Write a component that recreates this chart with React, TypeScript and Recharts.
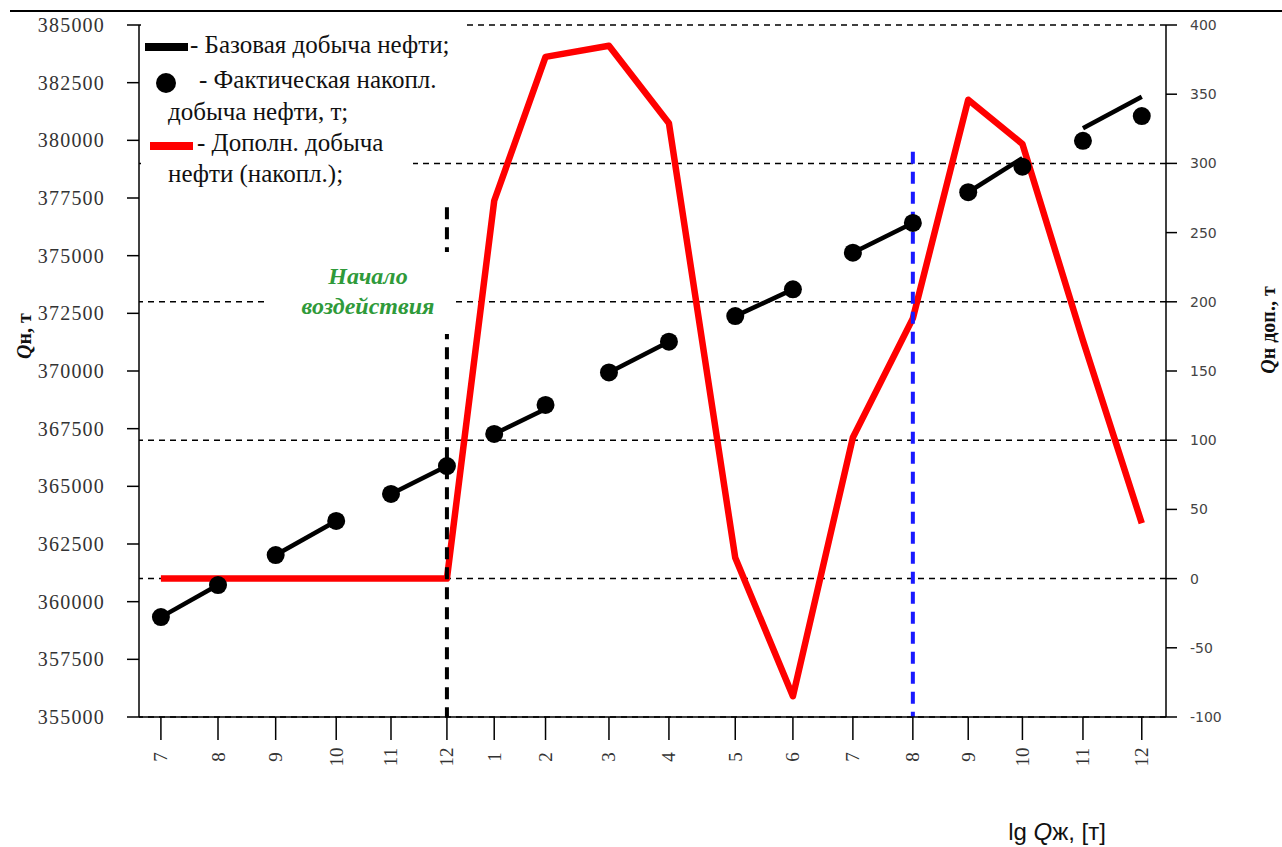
import React from 'react';
import { ComposedChart, Line, XAxis, YAxis, ReferenceLine } from 'recharts';

// month labels along the x axis (two years: Jul..Dec, Jan..Dec)
const months = ['7', '8', '9', '10', '11', '12', '1', '2', '3', '4', '5', '6', '7', '8', '9', '10', '11', '12'];
// x values (lg Qж, relative units)
const lgQ = [0, 0.99, 1.99, 3.04, 3.99, 4.96, 5.78, 6.67, 7.77, 8.81, 9.96, 10.96, 12.0, 13.04, 14.0, 14.94, 15.99, 17.01];
// actual cumulative oil production, t (left axis)
const actual = [359330, 360720, 362020, 363500, 364670, 365880, 367270, 368530, 369940, 371270, 372380, 373540, 375130, 376420, 377750, 378860, 379980, 381050];
// base oil production, t (left axis), drawn as pairs of months
const base = [359330, 360720, 362020, 363500, 364670, 365880, 367270, 368350, 369940, 371270, 372380, 373540, 375130, 376420, 377750, 379230, 380520, 381890];
// additional cumulative oil production, t (right axis)
const extra = [0, 0, 0, 0, 0, 0, 273, 377, 385, 329, 15, -85, 102, 188, 346, 314, 172, 40];

const leftTicks = [355000, 357500, 360000, 362500, 365000, 367500, 370000, 372500, 375000, 377500, 380000, 382500, 385000];
const rightTicks = [-100, -50, 0, 50, 100, 150, 200, 250, 300, 350, 400];
const gridLevels = [-100, 0, 100, 200, 300, 400];

const startIndex = 5; // "Начало воздействия"
const startTop = 377100;
const markIndex = 13;
const markTop = 379500;

const rows = months.map((m, i) => ({ x: lgQ[i], month: m, actual: actual[i], extra: extra[i] }));
const baseSegments: { x: number; y: number }[][] = [];
for (let k = 0; k + 1 < base.length; k += 2) {
  baseSegments.push([
    { x: lgQ[k], y: base[k] },
    { x: lgQ[k + 1], y: base[k + 1] },
  ]);
}

const serif = '"Liberation Serif", "Times New Roman", serif';
const sans = '"Liberation Sans", Arial, sans-serif';

const XTick = (props: any) => {
  const { x, y, payload } = props;
  let idx = props.index;
  if (idx === undefined || months[idx] === undefined) idx = lgQ.indexOf(payload.value);
  return (
    <text
      x={0}
      y={0}
      transform={`translate(${x},${y + 17}) rotate(-90)`}
      textAnchor="middle"
      dominantBaseline="central"
      fontFamily={serif}
      fontSize={19}
      fill="#333"
    >
      {months[idx]}
    </text>
  );
};

export default function App() {
  return (
    <div style={{ position: 'absolute', left: 0, top: 0, width: 1282, height: 847, background: '#fff' }}>
      <ComposedChart
        width={1282}
        height={847}
        data={rows}
        margin={{ top: 25, right: 0, bottom: 0, left: 0 }}
      >
        <XAxis
          dataKey="x"
          type="number"
          domain={[-0.38, 17.43]}
          ticks={lgQ}
          interval={0}
          height={130}
          tickSize={23}
          tickMargin={0}
          tick={<XTick />}
          axisLine={{ stroke: '#000', strokeWidth: 1.5 }}
          tickLine={{ stroke: '#000', strokeWidth: 1.5 }}
          allowDataOverflow
        />
        <YAxis
          yAxisId="left"
          orientation="left"
          width={139}
          domain={[355000, 385000]}
          ticks={leftTicks}
          interval={0}
          tickSize={12}
          tickMargin={22}
          axisLine={{ stroke: '#000', strokeWidth: 1.5 }}
          tickLine={{ stroke: '#000', strokeWidth: 1.5 }}
          tick={{ fontFamily: serif, fontSize: 20, fill: '#333', letterSpacing: 1.2 }}
          allowDataOverflow
        />
        <YAxis
          yAxisId="right"
          orientation="right"
          width={116}
          domain={[-100, 400]}
          ticks={rightTicks}
          interval={0}
          tickSize={11}
          tickMargin={13}
          axisLine={{ stroke: '#000', strokeWidth: 1.5 }}
          tickLine={{ stroke: '#000', strokeWidth: 1.5 }}
          tick={{ fontFamily: '"DejaVu Sans", sans-serif', fontSize: 14, fill: '#444' }}
          allowDataOverflow
        />
        {gridLevels.map((g) => (
          <ReferenceLine
            key={'g' + g}
            yAxisId="right"
            y={g}
            stroke="#000"
            strokeWidth={1.5}
            strokeDasharray="6 5"
          />
        ))}
        <Line
          yAxisId="right"
          dataKey="extra"
          type="linear"
          stroke="#ff0000"
          strokeWidth={6.5}
          strokeLinejoin="round"
          dot={false}
          isAnimationActive={false}
        />
        {baseSegments.map((seg, i) => (
          <Line
            key={'b' + i}
            yAxisId="left"
            data={seg}
            dataKey="y"
            type="linear"
            stroke="#000"
            strokeWidth={4.5}
            dot={false}
            isAnimationActive={false}
          />
        ))}
        <Line
          yAxisId="left"
          dataKey="actual"
          type="linear"
          stroke="none"
          dot={{ r: 9, fill: '#000', stroke: 'none' }}
          isAnimationActive={false}
        />
        <ReferenceLine
          yAxisId="left"
          segment={[
            { x: lgQ[startIndex], y: startTop },
            { x: lgQ[startIndex], y: 355000 },
          ]}
          stroke="#000"
          strokeWidth={4}
          strokeDasharray="12 8"
        />
        <ReferenceLine
          yAxisId="left"
          segment={[
            { x: lgQ[markIndex], y: markTop },
            { x: lgQ[markIndex], y: 355000 },
          ]}
          stroke="#1a1aff"
          strokeWidth={4}
          strokeDasharray="12 8"
        />
      </ComposedChart>

      <svg
        width={1282}
        height={847}
        style={{ position: 'absolute', left: 0, top: 0, pointerEvents: 'none' }}
      >
        <line x1={10} y1={11} x2={1282} y2={11} stroke="#000" strokeWidth={2} />
        {/* legend background */}
        <rect x={141} y={19} width={326} height={113} fill="#fff" />
        <rect x={141} y={130} width={272} height={60} fill="#fff" />
        <rect x={145} y={43} width={43} height={8} fill="#000" />
        <circle cx={166} cy={83} r={10} fill="#000" />
        <rect x={150} y={142} width={43} height={8} fill="#ff0000" />
        <g fontFamily={serif} fontSize={25} fill="#111">
          <text x={190} y={53}>- Базовая добыча нефти;</text>
          <text x={199} y={88}>- Фактическая  накопл.</text>
          <text x={168} y={120}>добыча нефти,  т;</text>
          <text x={197} y={151}>- Дополн. добыча</text>
          <text x={168} y={182}>нефти (накопл.);</text>
        </g>
        {/* start annotation */}
        <rect x={265} y={252} width={187} height={82} fill="#fff" />
        <g fontFamily={serif} fontSize={24} fontWeight="bold" fontStyle="italic" fill="#2f9a3a" textAnchor="middle">
          <text x={368} y={284}>Начало</text>
          <text x={368} y={314}>воздействия</text>
        </g>
        {/* axis titles */}
        <text
          transform="translate(24,336) rotate(-90)"
          textAnchor="middle"
          dominantBaseline="central"
          fontFamily={serif}
          fontSize={20}
          fontWeight="bold"
          fill="#111"
        >
          <tspan fontStyle="italic">Q</tspan>н, т
        </text>
        <text
          transform="translate(1268,330) rotate(-90)"
          textAnchor="middle"
          dominantBaseline="central"
          fontFamily={serif}
          fontSize={20}
          fontWeight="bold"
          fill="#111"
        >
          <tspan fontStyle="italic">Q</tspan>н доп., т
        </text>
        <text x={1057} y={840} textAnchor="middle" fontFamily={sans} fontSize={24} fill="#111">
          lg <tspan fontStyle="italic">Q</tspan>ж, [т]
        </text>
      </svg>
    </div>
  );
}
